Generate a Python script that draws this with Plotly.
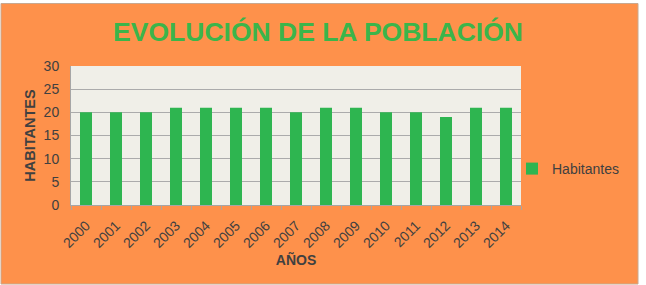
import plotly.graph_objects as go

years = [str(y) for y in range(2000, 2015)]
habitantes = [20, 20, 20, 21, 21, 21, 21, 20, 21, 21, 20, 20, 19, 21, 21]
y_ticks = [0, 5, 10, 15, 20, 25, 30]

ORANGE = "#FE914B"
GREEN = "#2EB550"
TITLE_GREEN = "#3BB54A"
PLOTBG = "#F0EFE8"
TXT = "#404040"
FONT = "Liberation Sans, Arial, sans-serif"

W, H = 646, 285
L, R, T, B = 71, 125, 66, 80
pw, ph = W - L - R, H - T - B

def px_x(p):
    return (p - L) / pw

def px_y(p):
    return (H - B - p) / ph

fig = go.Figure()
fig.add_trace(go.Bar(x=years, y=habitantes, name="Habitantes",
                     marker=dict(color=GREEN, line=dict(width=0))))

fig.update_layout(
    width=W, height=H,
    margin=dict(l=L, r=R, t=T, b=B),
    paper_bgcolor="white",
    plot_bgcolor=PLOTBG,
    bargap=0.6,
    font=dict(family=FONT, color=TXT, size=13),
    title=dict(text="<b>EVOLUCIÓN DE LA POBLACIÓN</b>",
               font=dict(family=FONT, size=26.5, color=TITLE_GREEN),
               x=318 / W, xanchor="center", y=1 - 32 / H, yanchor="middle"),
    showlegend=True,
    legend=dict(x=px_x(512), xanchor="left", y=px_y(169), yanchor="middle",
                bgcolor="rgba(0,0,0,0)", font=dict(size=14, color=TXT)),
    xaxis=dict(
        type="category", tickangle=-45, tickfont=dict(size=14, color=TXT),
        showline=True, linecolor="#A6A6A6", linewidth=1,
        ticks="outside", tickson="boundaries", ticklen=4, tickcolor="#A6A6A6",
        ticklabelstandoff=6,
        showgrid=False,
        title=dict(text="<b>AÑOS</b>", font=dict(size=14, color=TXT), standoff=3),
    ),
    yaxis=dict(
        range=[0, 30], tickvals=y_ticks, tickfont=dict(size=14, color=TXT),
        showgrid=True, gridcolor="#ABABAB", gridwidth=1,
        showline=True, linecolor="#A6A6A6", linewidth=1,
        zeroline=False, ticks="", ticklabelstandoff=8,
        title=dict(text="<b>HABITANTES</b>", font=dict(size=14.5, color=TXT), standoff=4),
    ),
    shapes=[
        dict(type="rect", xref="paper", yref="paper", layer="below",
             x0=px_x(1), x1=px_x(638), y0=px_y(284), y1=px_y(3.5),
             fillcolor=ORANGE, line=dict(color="#C8A890", width=1)),
        dict(type="rect", xref="paper", yref="paper", layer="below",
             x0=0, x1=1, y0=0, y1=1, fillcolor=PLOTBG, line=dict(width=0)),
    ],
)

fig.write_html("out.html")
